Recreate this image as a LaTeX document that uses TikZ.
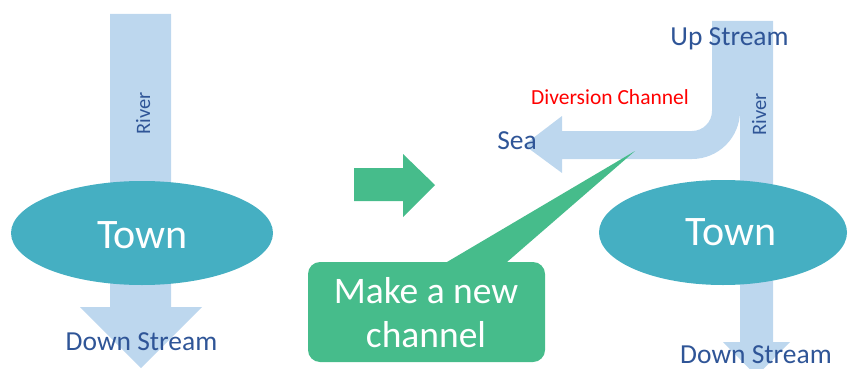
\documentclass[tikz,border=0pt]{standalone}
\usepackage{fontspec}
\setmainfont{Carlito}
\definecolor{riverblue}{HTML}{BDD7EE}
\definecolor{townteal}{HTML}{45AFC2}
\definecolor{mint}{HTML}{46BC8B}
\definecolor{txtblue}{HTML}{2F5597}
\begin{document}
\begin{tikzpicture}[x=1pt,y=-1pt,
  river/.style={fill=riverblue,draw=none},
  town/.style={fill=townteal,draw=none},
  mintfill/.style={fill=mint,draw=none},
  lbl/.style={text=txtblue,inner sep=0pt,anchor=base,font=\fontsize{27.5}{32}\selectfont},
  rivlbl/.style={text=txtblue,inner sep=0pt,anchor=base,rotate=90,font=\fontsize{20.5}{24}\selectfont},
  townlbl/.style={text=white,inner sep=0pt,anchor=base,font=\fontsize{42}{48}\selectfont},
  makelbl/.style={text=white,inner sep=0pt,anchor=base,font=\fontsize{37.5}{44}\selectfont}]
\useasboundingbox (0,0) rectangle (848,369);
\clip (0,0) rectangle (848,369);
% left river
\path[river] (110,14) -- (171,14) -- (171,307) -- (202,307) -- (141,368) -- (80,307) -- (110,307) -- cycle;
\path[town] (142,233) ellipse [x radius=131, y radius=52];
\node[rivlbl] (riverL) at (150,113.5) {River};
\node[townlbl] (townL) at (142.5,248) {Town};
\node[lbl] (downL) at (141.5,350) {Down Stream};
% green arrow
\path[mintfill] (354,168) -- (403,168) -- (403,154) -- (435,185) -- (403,217) -- (403,201) -- (354,201) -- cycle;
% right river
\path[river] (740,21) -- (773,21) -- (773,342) -- (790,342) -- (756.5,376) -- (723,342) -- (740,342) -- cycle;
% diversion channel
\path[river] (712,21) -- (712,111) .. controls (712,122) and (703,131) .. (692,131)
  -- (562,131) -- (562,116) -- (524,145) -- (562,173) -- (562,159) -- (692,159)
  .. controls (718.5,159) and (740,137.5) .. (740,111) -- (740,21) -- cycle;
\path[town] (723,232.5) ellipse [x radius=124, y radius=52.5];
\node[rivlbl] (riverR) at (766,114.5) {River};
\node[townlbl] (townR) at (731,245) {Town};
\node[lbl] (downR) at (756,363) {Down Stream};
\node[lbl] (up) at (729.5,46) {Up Stream};
\node[lbl] (sea) at (517,149) {Sea};
\node[text=red,inner sep=0pt,anchor=base,font=\fontsize{21.5}{25}\selectfont] (div) at (610,104) {Diversion Channel};
% callout
\path[mintfill] (447,262) -- (635,151) -- (507,262) -- cycle;
\path[mintfill,rounded corners=12pt] (308,262) rectangle (545,362);
\node[makelbl] (make1) at (426,303) {Make a new};
\node[makelbl] (make2) at (426,347) {channel};
\end{tikzpicture}
\end{document}
